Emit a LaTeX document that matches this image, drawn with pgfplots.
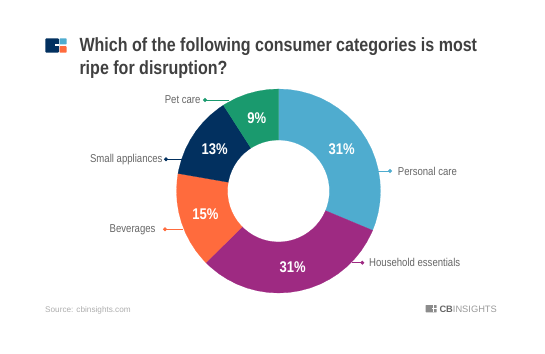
\documentclass[border=0pt]{standalone}
\usepackage{fontspec}
\setmainfont{Liberation Sans}
\newfontfamily\cond[FakeStretch=0.84]{Liberation Sans}
\usepackage{pgfplots}
\pgfplotsset{compat=1.18}
\definecolor{cblue}{HTML}{4FACCF}
\definecolor{cpurple}{HTML}{9E2A82}
\definecolor{corange}{HTML}{FF6B3D}
\definecolor{cnavy}{HTML}{02305F}
\definecolor{cgreen}{HTML}{1A9A6E}
\definecolor{ctitle}{HTML}{404040}
\definecolor{clabel}{HTML}{666666}
\pgfplotsset{
  wedge/.style={data cs=polar,fill=#1,draw=#1,line width=0.2pt,mark=none},
  lead/.style={#1,line width=0.8pt,mark=*,mark size=1.5pt,mark options={fill=#1,draw=#1},mark indices={1}},
}
\tikzset{
  pct/.style={text=white,font=\cond\fontsize{15.5}{17}\selectfont\bfseries,anchor=center,inner sep=0pt},
  lab/.style={text=clabel,font=\cond\fontsize{11.4}{13}\selectfont,inner sep=0pt},
}
\begin{document}
\begin{tikzpicture}
\begin{axis}[
  x=1pt,y=1pt,
  xmin=-278.5,xmax=266.5,ymin=-162,ymax=191,
  hide axis,clip=false,
]
% Personal care 31
\addplot[wedge=cblue] coordinates {(90,102)(84,102)(78,102)(72,102)(66,102)(60,102)(54,102)(48,102)(42,102)(36,102)(30,102)(24,102)(18,102)(12,102)(6,102)(0,102)(-6,102)(-12,102)(-18,102)(-22.7,102)
 (-22.7,51)(-18,51)(-12,51)(-6,51)(0,51)(6,51)(12,51)(18,51)(24,51)(30,51)(36,51)(42,51)(48,51)(54,51)(60,51)(66,51)(72,51)(78,51)(84,51)(90,51)} -- cycle;
% Household essentials 31
\addplot[wedge=cpurple] coordinates {(-22.7,102)(-24,102)(-30,102)(-36,102)(-42,102)(-48,102)(-54,102)(-60,102)(-66,102)(-72,102)(-78,102)(-84,102)(-90,102)(-96,102)(-102,102)(-108,102)(-114,102)(-120,102)(-126,102)(-132,102)(-135.4,102)
 (-135.4,51)(-132,51)(-126,51)(-120,51)(-114,51)(-108,51)(-102,51)(-96,51)(-90,51)(-84,51)(-78,51)(-72,51)(-66,51)(-60,51)(-54,51)(-48,51)(-42,51)(-36,51)(-30,51)(-24,51)(-22.7,51)} -- cycle;
% Beverages 15
\addplot[wedge=corange] coordinates {(-135.4,102)(-138,102)(-144,102)(-150,102)(-156,102)(-162,102)(-168,102)(-174,102)(-180,102)(-186,102)(-189.9,102)
 (-189.9,51)(-186,51)(-180,51)(-174,51)(-168,51)(-162,51)(-156,51)(-150,51)(-144,51)(-138,51)(-135.4,51)} -- cycle;
% Small appliances 13
\addplot[wedge=cnavy] coordinates {(-189.9,102)(-192,102)(-198,102)(-204,102)(-210,102)(-216,102)(-222,102)(-228,102)(-234,102)(-237.3,102)
 (-237.3,51)(-234,51)(-228,51)(-222,51)(-216,51)(-210,51)(-204,51)(-198,51)(-192,51)(-189.9,51)} -- cycle;
% Pet care 9
\addplot[wedge=cgreen] coordinates {(-237.3,102)(-240,102)(-246,102)(-252,102)(-258,102)(-264,102)(-270,102)
 (-270,51)(-264,51)(-258,51)(-252,51)(-246,51)(-240,51)(-237.3,51)} -- cycle;
% leaders (first point carries the dot)
\addplot[lead=cgreen] coordinates {(-73.5,91)(-49.5,91)};
\addplot[lead=cnavy] coordinates {(-112.5,31.7)(-96.8,31.7)};
\addplot[lead=corange] coordinates {(-113.5,-38.3)(-95.5,-38.3)};
\addplot[lead=cblue] coordinates {(111.5,20)(99.8,20)};
\addplot[lead=cpurple] coordinates {(83.8,-71.7)(73.2,-71.7)};
% percentages
\node[pct] at (axis cs:63.2,41.7) {31\%};
\node[pct] at (axis cs:14.2,-75.7) {31\%};
\node[pct] at (axis cs:-73.2,-23.3) {15\%};
\node[pct] at (axis cs:-63.8,41.7) {13\%};
\node[pct] at (axis cs:-21.8,72.7) {9\%};
% category labels
\node[lab,anchor=east] at (axis cs:-77.8,91) {Pet care};
\node[lab,anchor=east] at (axis cs:-115.8,31.7) {Small appliances};
\node[lab,anchor=east] at (axis cs:-122.8,-38.3) {Beverages};
\node[lab,anchor=west] at (axis cs:119.2,20) {Personal care};
\node[lab,anchor=west] at (axis cs:90.5,-71.7) {Household essentials};
% title
\node[anchor=base west,inner sep=0pt,text=ctitle,font=\cond\fontsize{19.1}{21}\selectfont\bfseries] at (axis cs:-199.2,139.3) {Which of the following consumer categories is most};
\node[anchor=base west,inner sep=0pt,text=ctitle,font=\cond\fontsize{19.1}{21}\selectfont\bfseries] at (axis cs:-199.2,116) {ripe for disruption?};
% logo
\fill[cnavy,rounded corners=1pt] (axis cs:-233.2,152.7) rectangle (axis cs:-219.5,138.3);
\fill[white] (axis cs:-223.5,146.6) rectangle (axis cs:-219.5,145.1);
\fill[cblue,rounded corners=0.8pt] (axis cs:-219,152.7) rectangle (axis cs:-211.8,146.6);
\fill[corange,rounded corners=0.8pt] (axis cs:-219,144.8) rectangle (axis cs:-211.8,138.3);
% footer
\node[anchor=west,inner sep=0pt,text=black!32,font=\fontsize{8.2}{10}\selectfont] at (axis cs:-233.5,-119) {Source: cbinsights.com};
\fill[black!45,rounded corners=0.5pt] (axis cs:147.2,-114) rectangle (axis cs:158.2,-121.3);
\fill[white] (axis cs:153.5,-117.3) rectangle (axis cs:158.2,-118);
\fill[white] (axis cs:154.7,-114) rectangle (axis cs:155.1,-121.3);
\node[anchor=west,inner sep=0pt,text=black!60,font=\fontsize{9.3}{11}\selectfont] at (axis cs:160.8,-117.8) {\textbf{CB}\textcolor{black!40}{INSIGHTS}};
% keep the canvas
\path (axis cs:-278.5,-162) rectangle (axis cs:266.5,191);
\end{axis}
\end{tikzpicture}
\end{document}
